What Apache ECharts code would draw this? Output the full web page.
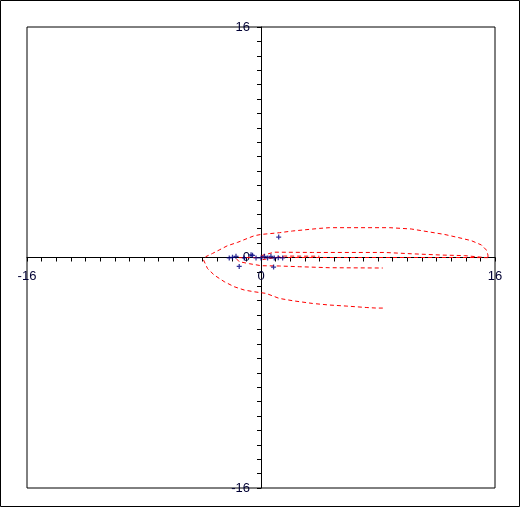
<!DOCTYPE html>
<html>
<head>
<meta charset="utf-8">
<script src="https://cdn.jsdelivr.net/npm/echarts@6/dist/echarts.min.js"></script>
<style>
  html, body { margin: 0; padding: 0; background: #fff; }
  #chart { width: 520px; height: 507px; }
</style>
</head>
<body>
<div id="chart"></div>
<script>
// tick labels shown on both axes
const tickLabels = [-16, 0, 16]

// red dashed curve in [x, y] pairs
const outerLoop = [
  [8.33, -3.51], [7.88, -3.51], [7.19, -3.47], [5.82, -3.37], [4.68, -3.30],
  [3.53, -3.19], [2.16, -3.0], [1.25, -2.84], [0.34, -2.49], [-0.46, -2.38],
  [-1.14, -2.26], [-1.83, -2.03], [-2.51, -1.68], [-3.20, -1.22], [-3.66, -0.76],
  [-3.93, -0.17], [-3.77, 0.06], [-3.32, 0.28], [-2.86, 0.52], [-2.29, 0.82],
  [-1.60, 1.05], [-0.92, 1.33], [-0.46, 1.51], [0, 1.60], [1.25, 1.72],
  [2.16, 1.84], [3.08, 1.93], [3.99, 2.02], [4.68, 2.07], [8.79, 2.07],
  [10.27, 1.98], [11.41, 1.79], [12.55, 1.60], [13.47, 1.39], [14.38, 1.17],
  [15.07, 0.87], [15.41, 0.52], [15.52, 0.17], [15.52, -0.01]
]
const middleLoop = [
  [15.52, -0.01], [14.27, 0], [9.47, 0], [4.68, 0], [1.94, 0], [0.02, 0],
  [-1.49, -0.01], [-1.69, -0.08], [-1.49, -0.29], [-0.8, -0.43], [0.02, -0.57],
  [1.25, -0.59], [2.62, -0.64], [4.68, -0.71], [8.33, -0.73]
]
const innerLoop = [
  [0.02, 0.13], [0.91, 0.37], [3.51, 0.35], [8.45, 0.35], [10.27, 0.26],
  [12.35, 0.17], [13.92, 0.13], [15.09, 0.02]
]
const innerTail = [
  [0.1, -0.15], [1.6, 0.1], [3.99, 0.09]
]

// blue "+" points
const points = [
  [-2.17, -0.03], [-1.95, 0.01], [-1.71, 0.08], [-1.14, -0.03], [-0.68, 0.19],
  [-0.58, 0.15], [-0.34, -0.03], [0, -0.03], [0.23, 0.08], [0.45, -0.03],
  [0.68, 0.08], [0.91, -0.03], [1.18, -0.01], [1.48, -0.03], [1.21, 1.42],
  [-1.49, -0.62], [0.86, -0.66]
]

const chart = echarts.init(document.getElementById('chart'))

const gridW = 468
const gridH = 461

function curve(data) {
  return {
    type: 'line',
    data: data,
    showSymbol: false,
    symbol: 'none',
    color: '#ff0000',
    itemStyle: { color: '#ff0000' },
    lineStyle: { color: '#ff0000', width: 1, type: [4, 3] },
    silent: true,
    z: 2,
  }
}

function axis(offset, margin) {
  return {
    type: 'value',
    min: -16,
    max: 16,
    interval: 1,
    offset: offset,
    axisLine: { onZero: false, lineStyle: { color: '#000', width: 1 } },
    axisTick: { show: true, length: 4, lineStyle: { color: '#000' } },
    splitLine: { show: false },
    axisLabel: {
      margin: margin,
      color: '#000033',
      fontSize: 13,
      fontFamily: 'Liberation Sans, Arial, sans-serif',
      formatter: (v) => (tickLabels.indexOf(v) >= 0 ? String(v) : ''),
    },
  }
}

chart.setOption({
  animation: false,
  backgroundColor: '#fff',
  grid: {
    left: 27,
    top: 27,
    width: gridW,
    height: gridH,
    show: true,
    borderColor: '#000',
    borderWidth: 1,
    backgroundColor: 'transparent',
  },
  graphic: [
    {
      type: 'rect',
      shape: { x: 0.5, y: 0.5, width: 519, height: 506 },
      style: { fill: 'none', stroke: '#000', lineWidth: 1 },
      silent: true,
    },
  ],
  // axes pulled into the middle of the grid so they cross at 0
  xAxis: axis(-gridH / 2, 12),
  yAxis: axis(-gridW / 2, 11),
  series: [
    curve(outerLoop),
    curve(middleLoop),
    curve(innerLoop),
    curve(innerTail),
    {
      type: 'scatter',
      data: points,
      symbol: 'path://M3,0H5V3H8V5H5V8H3V5H0V3H3Z',
      symbolSize: 5,
      itemStyle: { color: '#000080' },
      z: 3,
    },
  ],
})
</script>
</body>
</html>
